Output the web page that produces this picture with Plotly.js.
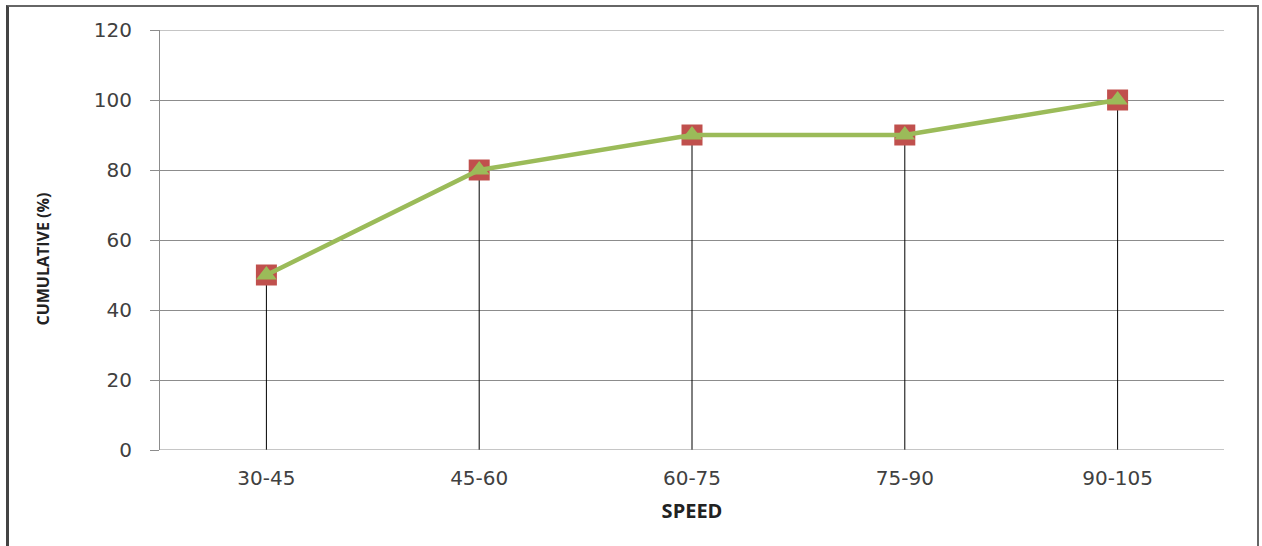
<!DOCTYPE html>
<html><head><meta charset="utf-8">
<script src="https://cdn.plot.ly/plotly-3.0.1.min.js"></script>
<style>
html,body{margin:0;padding:0;background:#fff;}
#wrap{position:relative;width:1262px;height:546px;overflow:hidden;}
#chart{position:absolute;left:0;top:0;width:1262px;height:546px;}
#frame{position:absolute;left:6px;top:5px;width:1248px;height:560px;border:2px solid #666;border-left:3px solid #444;pointer-events:none;}
</style>
</head><body>
<div id="wrap"><div id="chart"></div><div id="frame"></div></div>
<script>
const categories = ["30-45","45-60","60-75","75-90","90-105"];
const cumulative = [50, 80, 90, 90, 100];
const yTicks = [0,20,40,60,80,100,120];

const dropLines = {
  x: categories, y: cumulative, type: 'scatter', mode: 'markers',
  marker: {size: 1, color: 'rgba(0,0,0,0)'},
  error_y: {type: 'data', symmetric: false, array: cumulative.map(() => 0), arrayminus: cumulative, color: '#000', thickness: 1, width: 0},
  hoverinfo: 'skip', showlegend: false
};
const squares = {
  x: categories, y: cumulative, type: 'scatter', mode: 'markers',
  marker: {symbol: 'square', size: 21, color: '#C0504D', line: {width: 0}},
  showlegend: false
};
const line = {
  x: categories, y: cumulative, type: 'scatter', mode: 'lines+markers',
  line: {color: '#9BBB59', width: 4.5},
  marker: {symbol: 'triangle-up', size: 18, color: '#9BBB59'},
  showlegend: false
};

Plotly.newPlot('chart', [dropLines, squares, line], {
  width: 1262, height: 546,
  margin: {l: 160, r: 38, t: 30, b: 96},
  paper_bgcolor: '#fff', plot_bgcolor: '#fff',
  font: {family: 'DejaVu Sans, sans-serif', color: '#404040'},
  xaxis: {
    type: 'category', range: [-0.5, 4.5], showgrid: false, zeroline: false,
    showline: false, ticks: '', tickfont: {size: 20, color: '#404040'},
    ticklabelstandoff: 14,
    title: {text: '<b>SPEED</b>', font: {family: 'Open Sans, sans-serif', size: 20, color: '#222'}, standoff: 14}
  },
  yaxis: {
    range: [0, 120], tickvals: yTicks, ticktext: yTicks.map(String),
    showgrid: true, gridcolor: '#8c8c8c', gridwidth: 1, zeroline: false,
    showline: true, linecolor: '#8c8c8c', linewidth: 1,
    ticks: 'outside', ticklen: 9, tickcolor: '#8c8c8c',
    ticklabelstandoff: 14,
    tickfont: {size: 20, color: '#404040'}
  },
  annotations: [{
    text: '<b>CUMULATIVE (%)</b>', textangle: -90, showarrow: false,
    xref: 'paper', yref: 'paper', x: -0.1103, y: 0.455, xanchor: 'center', yanchor: 'middle',
    font: {family: 'Open Sans, sans-serif', size: 16, color: '#222'}
  }],
  shapes: [{type: 'line', xref: 'paper', yref: 'y', x0: 0, x1: 1, y0: 0, y1: 0, line: {color: '#8c8c8c', width: 1}},
           {type: 'line', xref: 'paper', yref: 'y', x0: 0, x1: 1, y0: 120, y1: 120, line: {color: '#8c8c8c', width: 1}}]
}, {staticPlot: true});
</script>
</body></html>
